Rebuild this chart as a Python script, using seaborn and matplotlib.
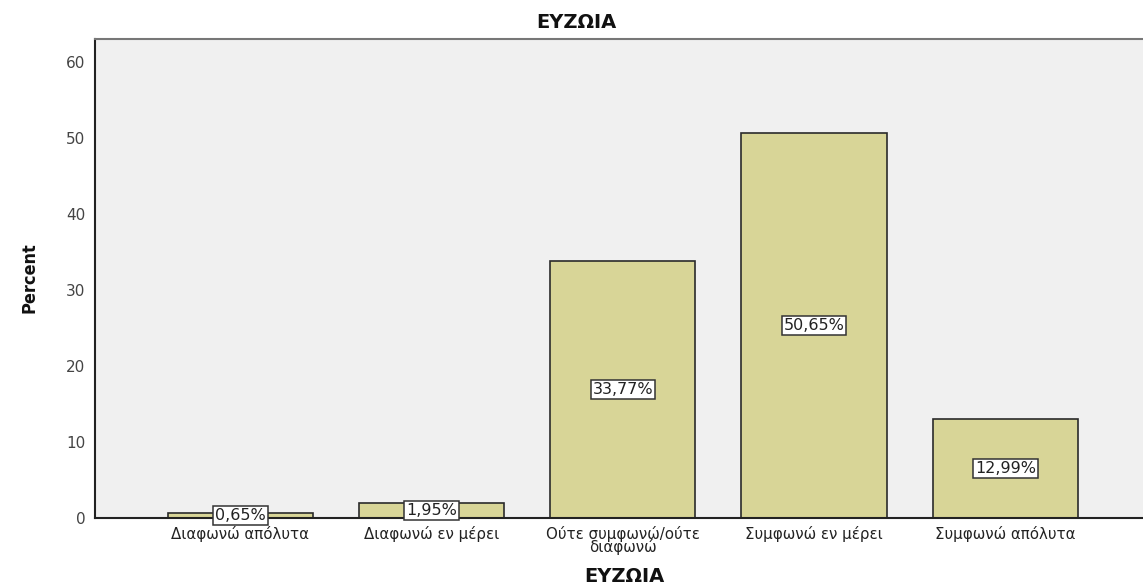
import matplotlib
matplotlib.use("Agg")
import matplotlib.pyplot as plt
import seaborn as sns
import pandas as pd

categories = ["Διαφωνώ απόλυτα", "Διαφωνώ εν μέρει", "Ούτε συμφωνώ/ούτε\nδιαφωνώ",
              "Συμφωνώ εν μέρει", "Συμφωνώ απόλυτα"]
percents = [0.65, 1.95, 33.77, 50.65, 12.99]
value_labels = ["0,65%", "1,95%", "33,77%", "50,65%", "12,99%"]
yticks = [0, 10, 20, 30, 40, 50, 60]

df = pd.DataFrame({"cat": categories, "pct": percents})

sns.set_style("white")
plt.rcParams["font.family"] = ["DejaVu Sans"]

fig = plt.figure(figsize=(11.43, 5.86), dpi=100)
ax = fig.add_axes([0.0831, 0.116, 0.9169, 0.8174])
ax.set_facecolor("#f0f0f0")

sns.barplot(data=df, x="cat", y="pct", color="#d8d597", saturation=1,
            width=0.76, edgecolor="#2b2b2b", linewidth=1.2, ax=ax)

# value labels sit halfway up each bar
for i, (v, lab) in enumerate(zip(percents, value_labels)):
    ax.text(i, v / 2, lab, ha="center", va="center", fontsize=11.5, color="#222222",
            bbox=dict(boxstyle="square,pad=0.12", fc="white", ec="#333333", lw=1.1))

ax.set_xlim(-0.76, 4.72)
ax.set_ylim(0, 63)
ax.set_yticks(yticks)
ax.set_yticklabels([str(t) for t in yticks], fontsize=11, color="#444444")
ax.tick_params(axis="y", length=6, width=1.2, color="#222222", direction="out", pad=1)
ax.tick_params(axis="x", length=4, width=1.2, color="#222222", direction="out", pad=2,
               labelsize=10.8, labelcolor="#222222")
ax.set_xticks(range(len(categories)))
ax.set_xticklabels(categories, linespacing=0.75)

for s in ["left", "bottom"]:
    ax.spines[s].set_color("#222222")
    ax.spines[s].set_linewidth(1.5)
ax.spines["top"].set_color("#777777")
ax.spines["top"].set_linewidth(1.5)
ax.spines["right"].set_visible(False)

ax.set_xlabel("")
ax.set_ylabel("")
fig.text(576 / 1143, 1 - 22 / 586, "ΕΥΖΩΙΑ", ha="center", va="center",
         fontsize=14, fontweight="bold", color="#111111")
fig.text(624 / 1143, 1 - 577 / 586, "ΕΥΖΩΙΑ", ha="center", va="center",
         fontsize=14, fontweight="bold", color="#111111")
fig.text(29 / 1143, 1 - 278 / 586, "Percent", ha="center", va="center", rotation=90,
         fontsize=13, fontweight="bold", fontstretch="condensed", color="#111111")

fig.savefig("out.png", dpi=100)
